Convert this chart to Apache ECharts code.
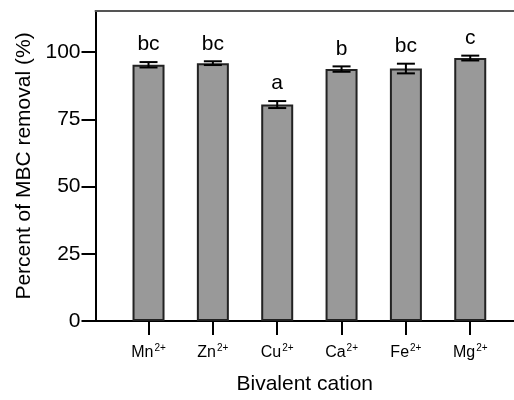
<!DOCTYPE html>
<html>
<head>
<meta charset="utf-8">
<script src="https://cdn.jsdelivr.net/npm/echarts@6/dist/echarts.min.js"></script>
<style>
  html, body { margin: 0; padding: 0; background: #fff; }
  #chart { width: 514px; height: 400px; }
</style>
</head>
<body>
<div id="chart"></div>
<script>
// ion, mean removal (%), error (±), significance letter
var cations = ['Mn', 'Zn', 'Cu', 'Ca', 'Fe', 'Mg'];
var removal = [95.3, 95.9, 80.5, 93.7, 93.9, 97.8];
var errors = [1.0, 0.7, 1.3, 1.0, 1.8, 0.9];
var letters = ['bc', 'bc', 'a', 'b', 'bc', 'c'];
var yTicks = [0, 25, 50, 75, 100];
var xTicks = [0, 1, 2, 3, 4, 5];

var chart = echarts.init(document.getElementById('chart'));

var FONT = 'Liberation Sans';

var barData = removal.map(function (v, i) { return [i, v]; });
var errData = removal.map(function (v, i) { return [i, v, errors[i], letters[i]]; });

var option = {
  animation: false,
  grid: { left: 95.5, right: 0, top: 11, bottom: 77.7, containLabel: false },
  xAxis: [{
    type: 'value',
    position: 'bottom',
    min: -0.824,
    max: 5.68,
    name: 'Bivalent cation',
    nameLocation: 'middle',
    nameGap: 53,
    nameTextStyle: { fontFamily: FONT, fontSize: 21, color: '#000' },
    axisLine: { show: true, onZero: false, lineStyle: { color: '#000', width: 2 } },
    axisTick: { show: true, customValues: xTicks, length: 14, lineStyle: { color: '#000', width: 2 } },
    axisLabel: {
      customValues: xTicks,
      margin: 22,
      formatter: function (v) {
        return '{b|' + cations[Math.round(v)] + '}{s|2+}';
      },
      rich: {
        b: { fontFamily: FONT, fontSize: 16, color: '#000', verticalAlign: 'bottom', lineHeight: 18 },
        s: { fontFamily: FONT, fontSize: 10, color: '#000', verticalAlign: 'top', lineHeight: 18, padding: [0, 0, 0, 1] }
      }
    },
    splitLine: { show: false }
  }, {
    type: 'value',
    position: 'top',
    min: -0.824,
    max: 5.68,
    axisLine: { show: true, onZero: false, lineStyle: { color: '#555', width: 2 } },
    axisTick: { show: false },
    axisLabel: { show: false },
    splitLine: { show: false }
  }],
  yAxis: {
    type: 'value',
    min: 0,
    max: 115.3,
    name: 'Percent of MBC removal (%)',
    nameLocation: 'middle',
    nameGap: 53,
    nameTextStyle: { fontFamily: FONT, fontSize: 21, color: '#000' },
    axisLine: { show: true, onZero: false, lineStyle: { color: '#000', width: 2 } },
    axisTick: { show: true, customValues: yTicks, length: 14, lineStyle: { color: '#000', width: 2 } },
    axisLabel: { customValues: yTicks, margin: 15, fontFamily: FONT, fontSize: 21, color: '#000' },
    splitLine: { show: false }
  },
  series: [{
    type: 'bar',
    xAxisIndex: 0,
    barWidth: 32,
    data: barData,
    itemStyle: { color: '#999999', borderColor: '#222', borderWidth: 2 }
  }, {
    type: 'custom',
    xAxisIndex: 0,
    data: errData,
    z: 5,
    renderItem: function (params, api) {
      var x = api.value(0);
      var m = api.value(1);
      var e = api.value(2);
      var hi = api.coord([x, m + e]);
      var lo = api.coord([x, m - e]);
      var half = 9;
      var style = { stroke: '#000', lineWidth: 2 };
      return {
        type: 'group',
        children: [
          { type: 'line', shape: { x1: hi[0], y1: hi[1], x2: lo[0], y2: lo[1] }, style: style },
          { type: 'line', shape: { x1: hi[0] - half, y1: hi[1], x2: hi[0] + half, y2: hi[1] }, style: style },
          { type: 'line', shape: { x1: lo[0] - half, y1: lo[1], x2: lo[0] + half, y2: lo[1] }, style: style },
          {
            type: 'text',
            style: {
              text: api.value(3),
              x: hi[0],
              y: hi[1] - 7,
              textAlign: 'center',
              textVerticalAlign: 'bottom',
              fontFamily: FONT,
              fontSize: 21,
              fill: '#000'
            }
          }
        ]
      };
    }
  }]
};

chart.setOption(option);
</script>
</body>
</html>
